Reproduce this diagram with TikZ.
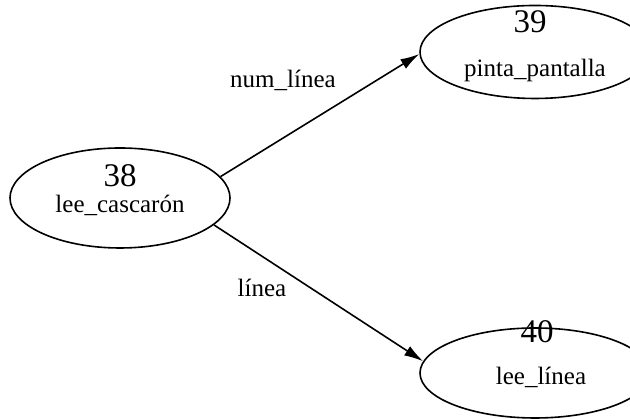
\documentclass[tikz,border=0pt]{standalone}
\usepackage{fontspec}
\setmainfont{Liberation Serif}
\usetikzlibrary{shapes.geometric,arrows.meta}
\begin{document}
\begin{tikzpicture}[x=1pt,y=1pt,
    proc/.style={draw,ellipse,line width=1.6pt,inner sep=0pt},
    num/.style={anchor=base,font=\fontsize{33}{33}\selectfont},
    txt/.style={anchor=base,font=\fontsize{25}{25}\selectfont},
    >={Latex[length=19pt,width=11pt]}]
      \useasboundingbox (0,0) rectangle (630,419);
      \clip (0,0) rectangle (630,419);
      % the three processes
      \node [proc,minimum width=220pt,minimum height=100pt] (lee) at (120,221) {};
      \node [proc,minimum width=230pt,minimum height=93pt] (pinta) at (535,367) {};
      \node [proc,minimum width=230pt,minimum height=90pt] (linea) at (535,46) {};
      \node [num] (lee-n) at (120,232) {38};
      \node [txt] (lee-t) at (120,206) {lee\_cascarón};
      \node [num] (pinta-n) at (530,386) {39};
      \node [txt] (pinta-t) at (535,342) {pinta\_pantalla};
      \node [num] (linea-n) at (537,76) {40};
      \node [txt] (linea-t) at (541,34) {lee\_línea};
      % data flows
      \draw [->, line width=1.6pt] (lee.12) -- (pinta.181);
      \draw [->, line width=1.6pt] (lee.-16) -- (linea.174);
      \node [txt] (num-l) at (283,331) {num\_línea};
      \node [txt] (lin-l) at (262,122) {línea};
    \end{tikzpicture}
\end{document}
